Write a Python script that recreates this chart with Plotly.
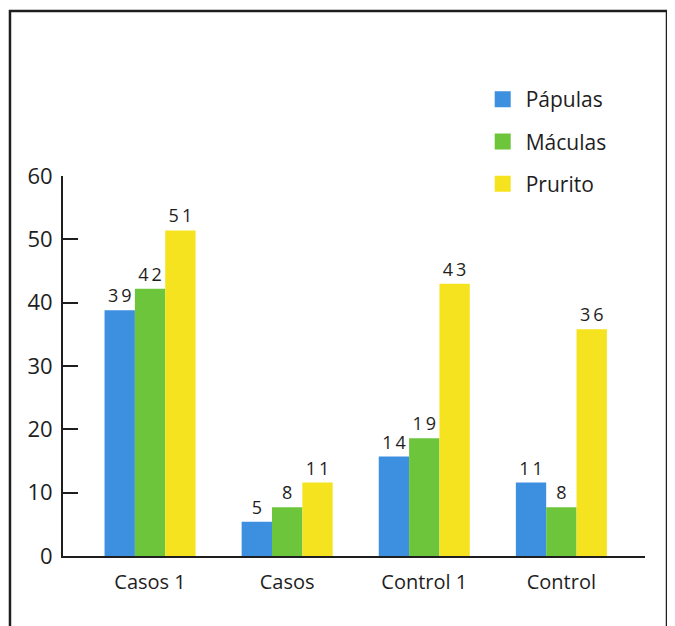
import plotly.graph_objects as go

categories = ["Casos 1", "Casos", "Control 1", "Control"]
series_names = ["Pápulas", "Máculas", "Prurito"]
# bar heights as drawn in the picture
papulas = [38.8, 5.4, 15.7, 11.6]
maculas = [42.2, 7.7, 18.6, 7.7]
prurito = [51.4, 11.6, 43.0, 35.8]
# printed value labels
papulas_labels = [39, 5, 14, 11]
maculas_labels = [42, 8, 19, 8]
prurito_labels = [51, 11, 43, 36]
y_ticks = [0, 10, 20, 30, 40, 50, 60]

colors = ["#3d8fe0", "#6dc53b", "#f6e31f"]
FONT = "'Open Sans', Lato, sans-serif"

def spaced(v):
    return "\u2009".join(str(v))

fig = go.Figure()
for name, vals, labs, col in zip(series_names, [papulas, maculas, prurito],
                                 [papulas_labels, maculas_labels, prurito_labels], colors):
    fig.add_trace(go.Bar(
        x=list(range(len(categories))), y=vals, name=name,
        marker=dict(color=col, line=dict(width=0)),
        text=[spaced(v) for v in labs], textposition="outside",
        textfont=dict(size=18, color="#1e1e1e", family=FONT),
        cliponaxis=False, showlegend=False, hoverinfo="skip",
    ))
    fig.add_trace(go.Scatter(
        x=[None], y=[None], mode="markers", name=name, legendgroup=name,
        marker=dict(symbol="square", size=16, color=col),
        showlegend=True, hoverinfo="skip",
    ))

# page body has an 8px margin, so the figure is 8px smaller and margins shifted
fig.update_layout(
    width=667, height=618,
    margin=dict(l=55, r=30, t=168, b=70),
    paper_bgcolor="white", plot_bgcolor="white",
    barmode="group", bargap=0.336, bargroupgap=0,
    font=dict(family=FONT, color="#1e1e1e"),
    legend=dict(x=0.716, y=1.255, xanchor="left", yanchor="top",
                font=dict(size=21, color="#1e1e1e", family=FONT),
                traceorder="grouped", tracegroupgap=12, itemwidth=36,
                bgcolor="rgba(0,0,0,0)"),
    xaxis=dict(
        tickmode="array", tickvals=list(range(len(categories))), ticktext=categories,
        range=[-0.635, 3.61], showgrid=False, zeroline=False,
        showline=True, linecolor="#1e1e1e", linewidth=2, ticks="",
        tickfont=dict(size=20, color="#1e1e1e", family=FONT), ticklabelstandoff=7,
    ),
    yaxis=dict(
        range=[0, 60], tickvals=y_ticks, showgrid=False, zeroline=False,
        showline=True, linecolor="#1e1e1e", linewidth=2,
        ticks="inside", ticklen=15, tickwidth=2, tickcolor="#1e1e1e",
        tickfont=dict(size=22, color="#1e1e1e", family=FONT), ticklabelstandoff=4,
    ),
    shapes=[dict(type="rect", xref="paper", yref="paper",
                 x0=-0.0911, x1=1.0378, y0=-0.3, y1=1.434,
                 line=dict(color="#1e1e1e", width=2.5), fillcolor="rgba(0,0,0,0)",
                 layer="below")],
)

fig.write_html("out.html")
